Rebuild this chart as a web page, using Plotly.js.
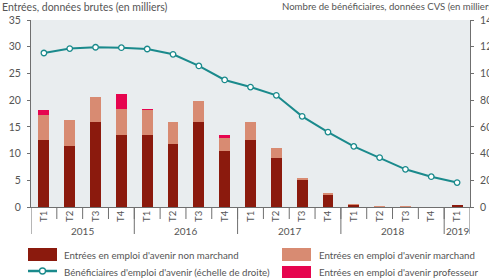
<!DOCTYPE html>
<html><head><meta charset="utf-8">
<script src="https://cdn.plot.ly/plotly-3.0.1.min.js"></script>
<style>html,body{margin:0;padding:0;background:#fff}#chart{width:489px;height:278px}</style>
</head><body><div id="chart"></div>
<script>
const quarters = ["T1","T2","T3","T4","T1","T2","T3","T4","T1","T2","T3","T4","T1","T2","T3","T4","T1"];
const years = ["2015","2016","2017","2018","2019"];
const quartersPerYear = [4,4,4,4,1];
const nonMarchand = [12.5,11.4,16.0,13.4,13.5,11.8,16.0,10.4,12.5,9.2,5.0,2.3,0.45,0.05,0.05,0.0,0.3];
const marchand =    [4.8,4.8,4.6,5.0,4.6,4.1,3.8,2.5,3.4,1.8,0.4,0.3,0.05,0.1,0.1,0.0,0.05];
const professeur =  [0.9,0.0,0.0,2.7,0.3,0.0,0.0,0.6,0.0,0.0,0.0,0.0,0.0,0.0,0.0,0.0,0.0];
const beneficiaires = [115.3,118.6,119.6,119.3,118.3,114.3,105.6,95.1,89.8,83.6,67.9,56.1,45.4,37.0,28.2,22.7,18.3];

const names = {
  nm: "Entrées en emploi d'avenir non marchand",
  m: "Entrées en emploi d'avenir marchand",
  b: "Bénéficiaires d'emploi d'avenir (échelle de droite)",
  p: "Entrées en emploi d'avenir professeur"
};
const C = {nm:"#8b1a0d", m:"#d88b72", p:"#e6054f", line:"#1a8a8c", bg:"#e9edef", axis:"#6f6f6f", text:"#555555"};
const FONT = "Lato";

const xIdx = quarters.map((q,i)=>i);
const barW = 0.42;
const traces = [
  {type:"bar", x:xIdx, y:nonMarchand, name:names.nm, marker:{color:C.nm}, width:barW, yaxis:"y"},
  {type:"bar", x:xIdx, y:marchand, name:names.m, marker:{color:C.m}, width:barW, yaxis:"y"},
  {type:"bar", x:xIdx, y:professeur, name:names.p, marker:{color:C.p}, width:barW, yaxis:"y"},
  {type:"scatter", mode:"lines+markers", x:xIdx, y:beneficiaires, name:names.b, yaxis:"y2",
   line:{color:C.line, width:2}, marker:{size:5.5, color:"#ffffff", line:{color:C.line, width:1.3}}}
];

const L=31, R=470, T=20, B=207, W=R-L, H=B-T;
const px = v => (v-L)/W;
const py = v => (B-v)/H;

const shapes = [];
const annotations = [];
let start = 0;
years.forEach((yr,k)=>{
  const n = quartersPerYear[k];
  const end = start + n;
  annotations.push({xref:"x", yref:"paper", x:(start+end-1)/2, y:py(231), text:yr, showarrow:false,
    font:{size:10, color:C.text, family:FONT}, xanchor:"center", yanchor:"middle"});
  shapes.push({type:"line", xref:"x", yref:"paper", x0:start-0.5, x1:start-0.5, y0:0, y1:py(234), line:{color:C.axis, width:1}});
  start = end;
});
shapes.push({type:"line", xref:"x", yref:"paper", x0:start-0.5, x1:start-0.5, y0:0, y1:py(234), line:{color:C.axis, width:1}});

annotations.push({xref:"paper", yref:"paper", x:px(0), y:py(7), text:"Entrées, données brutes (en milliers)", showarrow:false,
  xanchor:"left", yanchor:"middle", font:{size:10.5, color:C.text, family:FONT}});
annotations.push({xref:"paper", yref:"paper", x:px(280), y:py(7), text:"Nombre de bénéficiaires, données CVS (en milliers)", showarrow:false,
  xanchor:"left", yanchor:"middle", font:{size:9.6, color:C.text, family:FONT}});

function box(x0,x1,y0,y1,color){shapes.push({type:"rect", xref:"paper", yref:"paper", x0:px(x0), x1:px(x1), y0:py(y1), y1:py(y0), fillcolor:color, line:{width:0}});}
function label(x,y,t){annotations.push({xref:"paper", yref:"paper", x:px(x), y:py(y), text:t, showarrow:false, xanchor:"left", yanchor:"middle", font:{size:9.7, color:C.text, family:FONT}});}
box(28,57,248,261,C.nm); label(62,255,names.nm);
box(282,311,248,261,C.m); label(317,255,names.m);
shapes.push({type:"line", xref:"paper", yref:"paper", x0:px(28), x1:px(57), y0:py(271), y1:py(271), line:{color:C.line, width:2.5}});
shapes.push({type:"circle", xref:"paper", yref:"paper", x0:px(39.5), x1:px(45.5), y0:py(274), y1:py(268), fillcolor:"#fff", line:{color:C.line, width:1.3}});
label(62,272,names.b);
box(282,311,266,280,C.p); label(317,272,names.p);

for (let i=1;i<quarters.length;i++){
  shapes.push({type:"line", xref:"x", yref:"paper", x0:i-0.5, x1:i-0.5, y0:0, y1:py(219), line:{color:C.axis, width:1}});
}

const layout = {
  width:489, height:278,
  margin:{l:L, r:489-R, t:T, b:278-B, pad:0},
  paper_bgcolor:"#ffffff", plot_bgcolor:C.bg,
  barmode:"stack", showlegend:false,
  font:{family:FONT, size:10, color:C.text},
  xaxis:{type:"linear", range:[-0.5, quarters.length-0.5], tickmode:"array", tickvals:xIdx, ticktext:quarters,
    tickangle:-90, ticks:"", showline:true, linecolor:C.axis, linewidth:1, showgrid:false, zeroline:false,
    tickfont:{size:9.5, color:C.text, family:FONT}, ticklabelstandoff:-1},
  yaxis:{range:[0,35], dtick:5, showgrid:false, zeroline:false, showline:true, linecolor:C.axis, linewidth:1,
    ticks:"outside", ticklen:3, tickcolor:C.axis, tickfont:{size:10.5, color:C.text, family:FONT}, ticklabelstandoff:4},
  yaxis2:{range:[0,140], dtick:20, overlaying:"y", side:"right", showgrid:false, zeroline:false, showline:true,
    linecolor:C.axis, linewidth:1, ticks:"outside", ticklen:3, tickcolor:C.axis, tickfont:{size:10.5, color:C.text, family:FONT}, ticklabelstandoff:4},
  shapes:shapes, annotations:annotations
};
Plotly.newPlot("chart", traces, layout, {displayModeBar:false, staticPlot:true});
</script></body></html>
